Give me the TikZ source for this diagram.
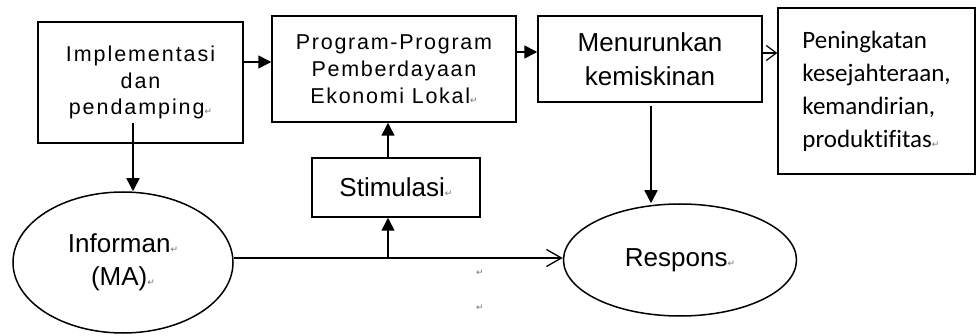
\documentclass[tikz,border=0pt]{standalone}
\usepackage{fontspec}
\setmainfont{Liberation Sans}
\newfontfamily\calfont[Ligatures=NoCommon]{Carlito}
\newfontfamily\symfont{DejaVu Sans}
\usetikzlibrary{shapes.geometric,arrows.meta}
\newcommand{\retmark}{{\symfont\fontsize{9}{9}\selectfont\color{black!55}↵}}
\begin{document}
\begin{tikzpicture}[x=1pt,y=-1pt, line width=1.5pt,
  box/.style={draw, rectangle, inner sep=0pt, align=center},
  oval/.style={draw, ellipse, inner sep=0pt, align=center},
  fillarrow/.style={-{Triangle[length=13pt,width=13pt]}},
  openarrow/.style={-{Straight Barb[length=15pt,width=17pt,line width=1.3pt]}},
  smallopen/.style={-{Straight Barb[length=10pt,width=15pt,line width=1.2pt]}},
  spaced/.style={font=\fontsize{21.5}{27}\selectfont\addfontfeature{LetterSpace=8}},
  big/.style={font=\fontsize{26}{33.5}\selectfont},
]
\useasboundingbox (0,0) rectangle (976,336);
\fill[white] (0,0) rectangle (976,336);

\node[box, font=\fontsize{21.5}{26.5}\selectfont\addfontfeature{LetterSpace=9}, minimum width=205pt, minimum height=121pt] (b1) at (140.5,82.5)
  {Implementasi\\dan\\pendamping\retmark};
\node[box, spaced, minimum width=244pt, minimum height=106pt] (b2) at (394,69)
  {Program-Program\\Pemberdayaan\\Ekonomi Lokal\retmark};
\node[box, big, minimum width=224pt, minimum height=86pt] (b3) at (650,59)
  {Menurunkan\\kemiskinan};
\node[box, align=left, font=\calfont\fontsize{25}{33}\selectfont, minimum width=197pt, minimum height=166pt] (b4) at (876.5,91)
  {Peningkatan\\kesejahteraan,\\kemandirian,\\produktifitas\retmark};
\node[box, big, minimum width=168pt, minimum height=59pt] (st) at (396,187.5)
  {Stimulasi\retmark};
\node[oval, big, minimum width=220pt, minimum height=141pt] (e1) at (123,262.5)
  {Informan\retmark\\(MA)\retmark};
\node[oval, big, minimum width=233pt, minimum height=112pt] (e2) at (680,260)
  {Respons\retmark};

\node (r1) at (480,273) {\retmark};
\node (r2) at (480,308) {\retmark};

\coordinate (d1s) at (133,123);
\coordinate (d3s) at (651,106);
\coordinate (sx) at (388,258);
\coordinate (y62) at (0,62);
\coordinate (y52) at (0,52);
\coordinate (y53) at (0,53);

\draw[fillarrow] (b1.east |- y62) -- (b2.west |- y62);
\draw[fillarrow] (b2.east |- y52) -- (b3.west |- y52);
\draw[smallopen] (b3.east |- y53) -- (b4.west |- y53);
\draw[fillarrow] (d1s) -- (d1s |- e1.north);
\draw[fillarrow] (d3s) -- (d3s |- e2.north);
\draw[fillarrow] (st.north -| sx) -- (b2.south -| sx);
\draw[openarrow] (e1.east |- sx) -- (e2.west |- sx);
\draw[fillarrow] (sx) -- (st.south -| sx);
\end{tikzpicture}
\end{document}
